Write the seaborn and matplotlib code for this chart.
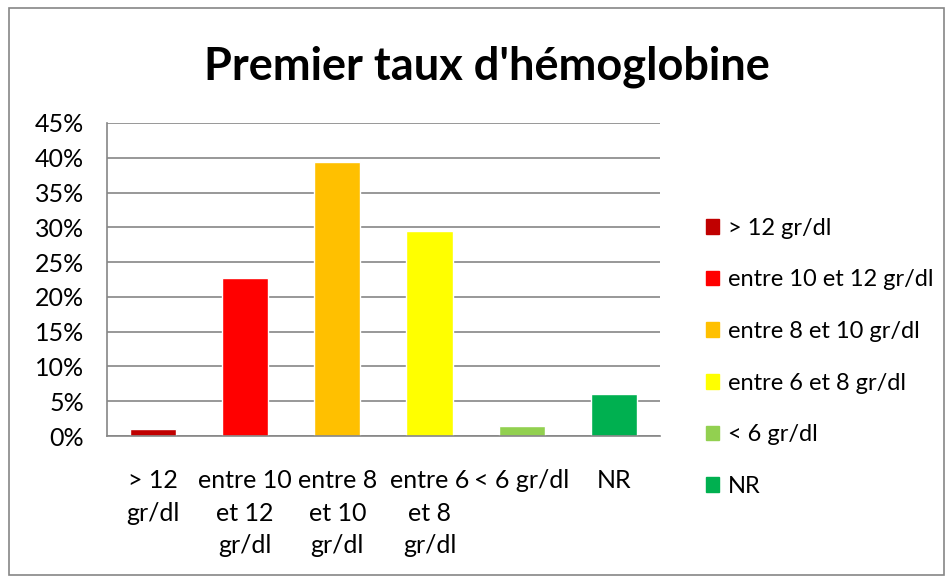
import matplotlib
matplotlib.use("Agg")
import matplotlib.pyplot as plt
import seaborn as sns
import pandas as pd
from matplotlib.patches import Rectangle
from matplotlib.ticker import PercentFormatter, FixedLocator

categories = ["> 12 gr/dl", "entre 10 et 12 gr/dl", "entre 8 et 10 gr/dl",
              "entre 6 et 8 gr/dl", "< 6 gr/dl", "NR"]
tick_labels = ["> 12\ngr/dl", "entre 10\net 12\ngr/dl", "entre 8\net 10\ngr/dl",
               "entre 6\net 8\ngr/dl", "< 6 gr/dl", "NR"]
values = [1.0, 22.7, 39.4, 29.4, 1.4, 6.0]
colors = ["#C00000", "#FF0000", "#FFC000", "#FFFF00", "#92D050", "#00B050"]

df = pd.DataFrame({"cat": categories, "pct": values})

sns.set_style("white")
plt.rcParams["font.family"] = ["Lato", "DejaVu Sans"]
plt.rcParams["text.color"] = "black"
plt.rcParams["xtick.color"] = "black"
plt.rcParams["ytick.color"] = "black"

fig = plt.figure(figsize=(9.5, 5.83), dpi=100)
ax = fig.add_axes([0.1126, 0.2521, 0.582, 0.537])

sns.barplot(data=df, x="cat", y="pct", hue="cat", palette=colors,
            dodge=False, width=0.5, legend=False, saturation=1, ax=ax)

grey = "#868686"
fs = 18
ax.set_ylim(0, 45)
ax.set_xlim(-0.5, len(categories) - 0.5)
ax.set_yticks(range(0, 46, 5))
ax.yaxis.set_major_formatter(PercentFormatter(decimals=0))
ax.yaxis.grid(True, color=grey, linewidth=1.2)
ax.set_axisbelow(True)
ax.set_xlabel("")
ax.set_ylabel("")

ax.set_xticks(range(len(categories)))
ax.set_xticklabels(tick_labels, fontsize=fs, linespacing=1.5, va="top")
ax.tick_params(axis="x", which="major", length=0, pad=24)
ax.xaxis.set_minor_locator(FixedLocator([i - 0.5 for i in range(len(categories) + 1)]))
ax.tick_params(axis="x", which="minor", length=5, color=grey, width=1.2, direction="out")
ax.tick_params(axis="y", length=4.5, color=grey, width=1.2, direction="out",
               labelsize=fs, labelcolor="black", pad=12)

for s in ["top", "right"]:
    ax.spines[s].set_visible(False)
for s in ["left", "bottom"]:
    ax.spines[s].set_color(grey)
    ax.spines[s].set_linewidth(1.2)

handles = [Rectangle((0, 0), 1, 1, color=c) for c in colors]
fig.legend(handles, categories, loc="upper left", bbox_to_anchor=(0.733, 0.643),
           frameon=False, fontsize=17, handlelength=0.58, handleheight=0.58,
           handletextpad=0.35, labelspacing=1.3, borderaxespad=0)

fig.text(0.513, 0.885, "Premier taux d'hémoglobine", ha="center", va="center",
         fontsize=32.5, fontweight="bold")

fig.patches.append(Rectangle((0.009, 0.013), 0.985, 0.973, transform=fig.transFigure,
                             fill=False, edgecolor=grey, linewidth=1.2))

fig.savefig("out.png", dpi=100)
